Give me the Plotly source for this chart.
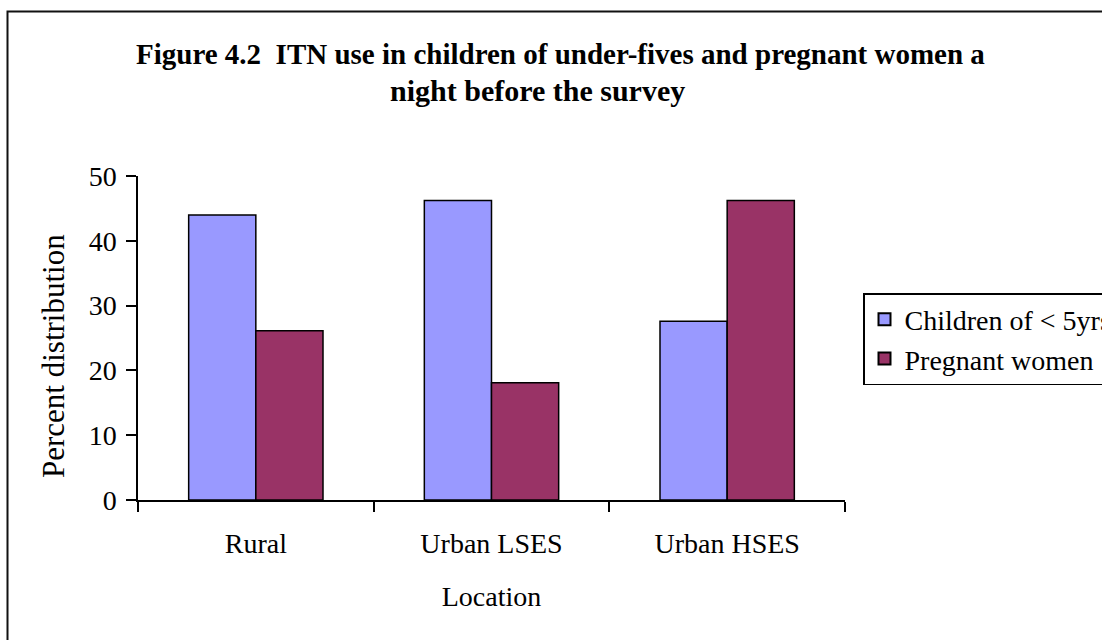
import plotly.graph_objects as go

categories = ["Rural", "Urban LSES", "Urban HSES"]
children_under5 = [44.0, 46.2, 27.6]
pregnant_women = [26.1, 18.1, 46.2]
series_names = ["Children of < 5yrs", "Pregnant women"]
y_ticks = [0, 10, 20, 30, 40, 50]
title_line1 = "Figure 4.2  ITN use in children of under-fives and pregnant women a"
title_line2 = "night before the survey"
x_title = "Location"
y_title = "Percent distribution"

W, H = 1102, 640
L, R, T, B = 138, 845, 176, 500
pw, ph = R - L, B - T

def px(x):
    return (x - L) / pw

def py(y):
    return (B - y) / ph

FONT = "Liberation Serif, Times New Roman, serif"

fig = go.Figure()
fig.add_trace(go.Bar(x=categories, y=children_under5, name=series_names[0],
                     marker=dict(color="#9999FF", line=dict(color="black", width=1.5))))
fig.add_trace(go.Bar(x=categories, y=pregnant_women, name=series_names[1],
                     marker=dict(color="#993366", line=dict(color="black", width=1.5))))

fig.update_layout(
    width=W, height=H,
    margin=dict(l=L, r=W - R, t=T, b=H - B, autoexpand=False),
    paper_bgcolor="white", plot_bgcolor="white",
    font=dict(family=FONT, size=28, color="black"),
    barmode="group", bargap=0.43, bargroupgap=0,
    showlegend=True,
    legend=dict(x=px(863), y=py(293), xanchor="left", yanchor="top",
                bordercolor="black", borderwidth=1.5, bgcolor="white",
                font=dict(family=FONT, size=28, color="black"),
                tracegroupgap=0, itemsizing="constant"),
    xaxis=dict(type="category", showline=True, linecolor="black", linewidth=1.5,
               ticks="outside", ticklen=10, tickwidth=1.5, tickcolor="black",
               tickson="boundaries", showgrid=False, zeroline=False,
               ticklabelstandoff=18,
               tickfont=dict(family=FONT, size=28, color="black"),
               title=dict(text=x_title, font=dict(family=FONT, size=28, color="black"), standoff=28)),
    yaxis=dict(range=[0, 50], tickvals=y_ticks, showline=True, linecolor="black", linewidth=1.5,
               ticks="outside", ticklen=10, tickwidth=1.5, tickcolor="black",
               showgrid=False, zeroline=False, ticklabelstandoff=4,
               tickfont=dict(family=FONT, size=28, color="black")),
)

fig.add_annotation(text="<b>" + title_line1 + "</b>", xref="paper", yref="paper",
                   x=px(560), y=py(54), xanchor="center", yanchor="middle", showarrow=False,
                   font=dict(family=FONT, size=29, color="black"))
fig.add_annotation(text="<b>" + title_line2 + "</b>", xref="paper", yref="paper",
                   x=px(537), y=py(91), xanchor="center", yanchor="middle", showarrow=False,
                   font=dict(family=FONT, size=30, color="black"))
fig.add_annotation(text=y_title, xref="paper", yref="paper", textangle=-90,
                   x=px(53), y=py(480), xanchor="center", yanchor="bottom", showarrow=False,
                   font=dict(family=FONT, size=31, color="black"))

fig.add_shape(type="rect", xref="paper", yref="paper",
              x0=px(7.5), y0=py(H + 40), x1=px(W + 40), y1=py(11.5),
              line=dict(color="#111111", width=2), fillcolor="rgba(0,0,0,0)", layer="below")

fig.write_html("out.html")
